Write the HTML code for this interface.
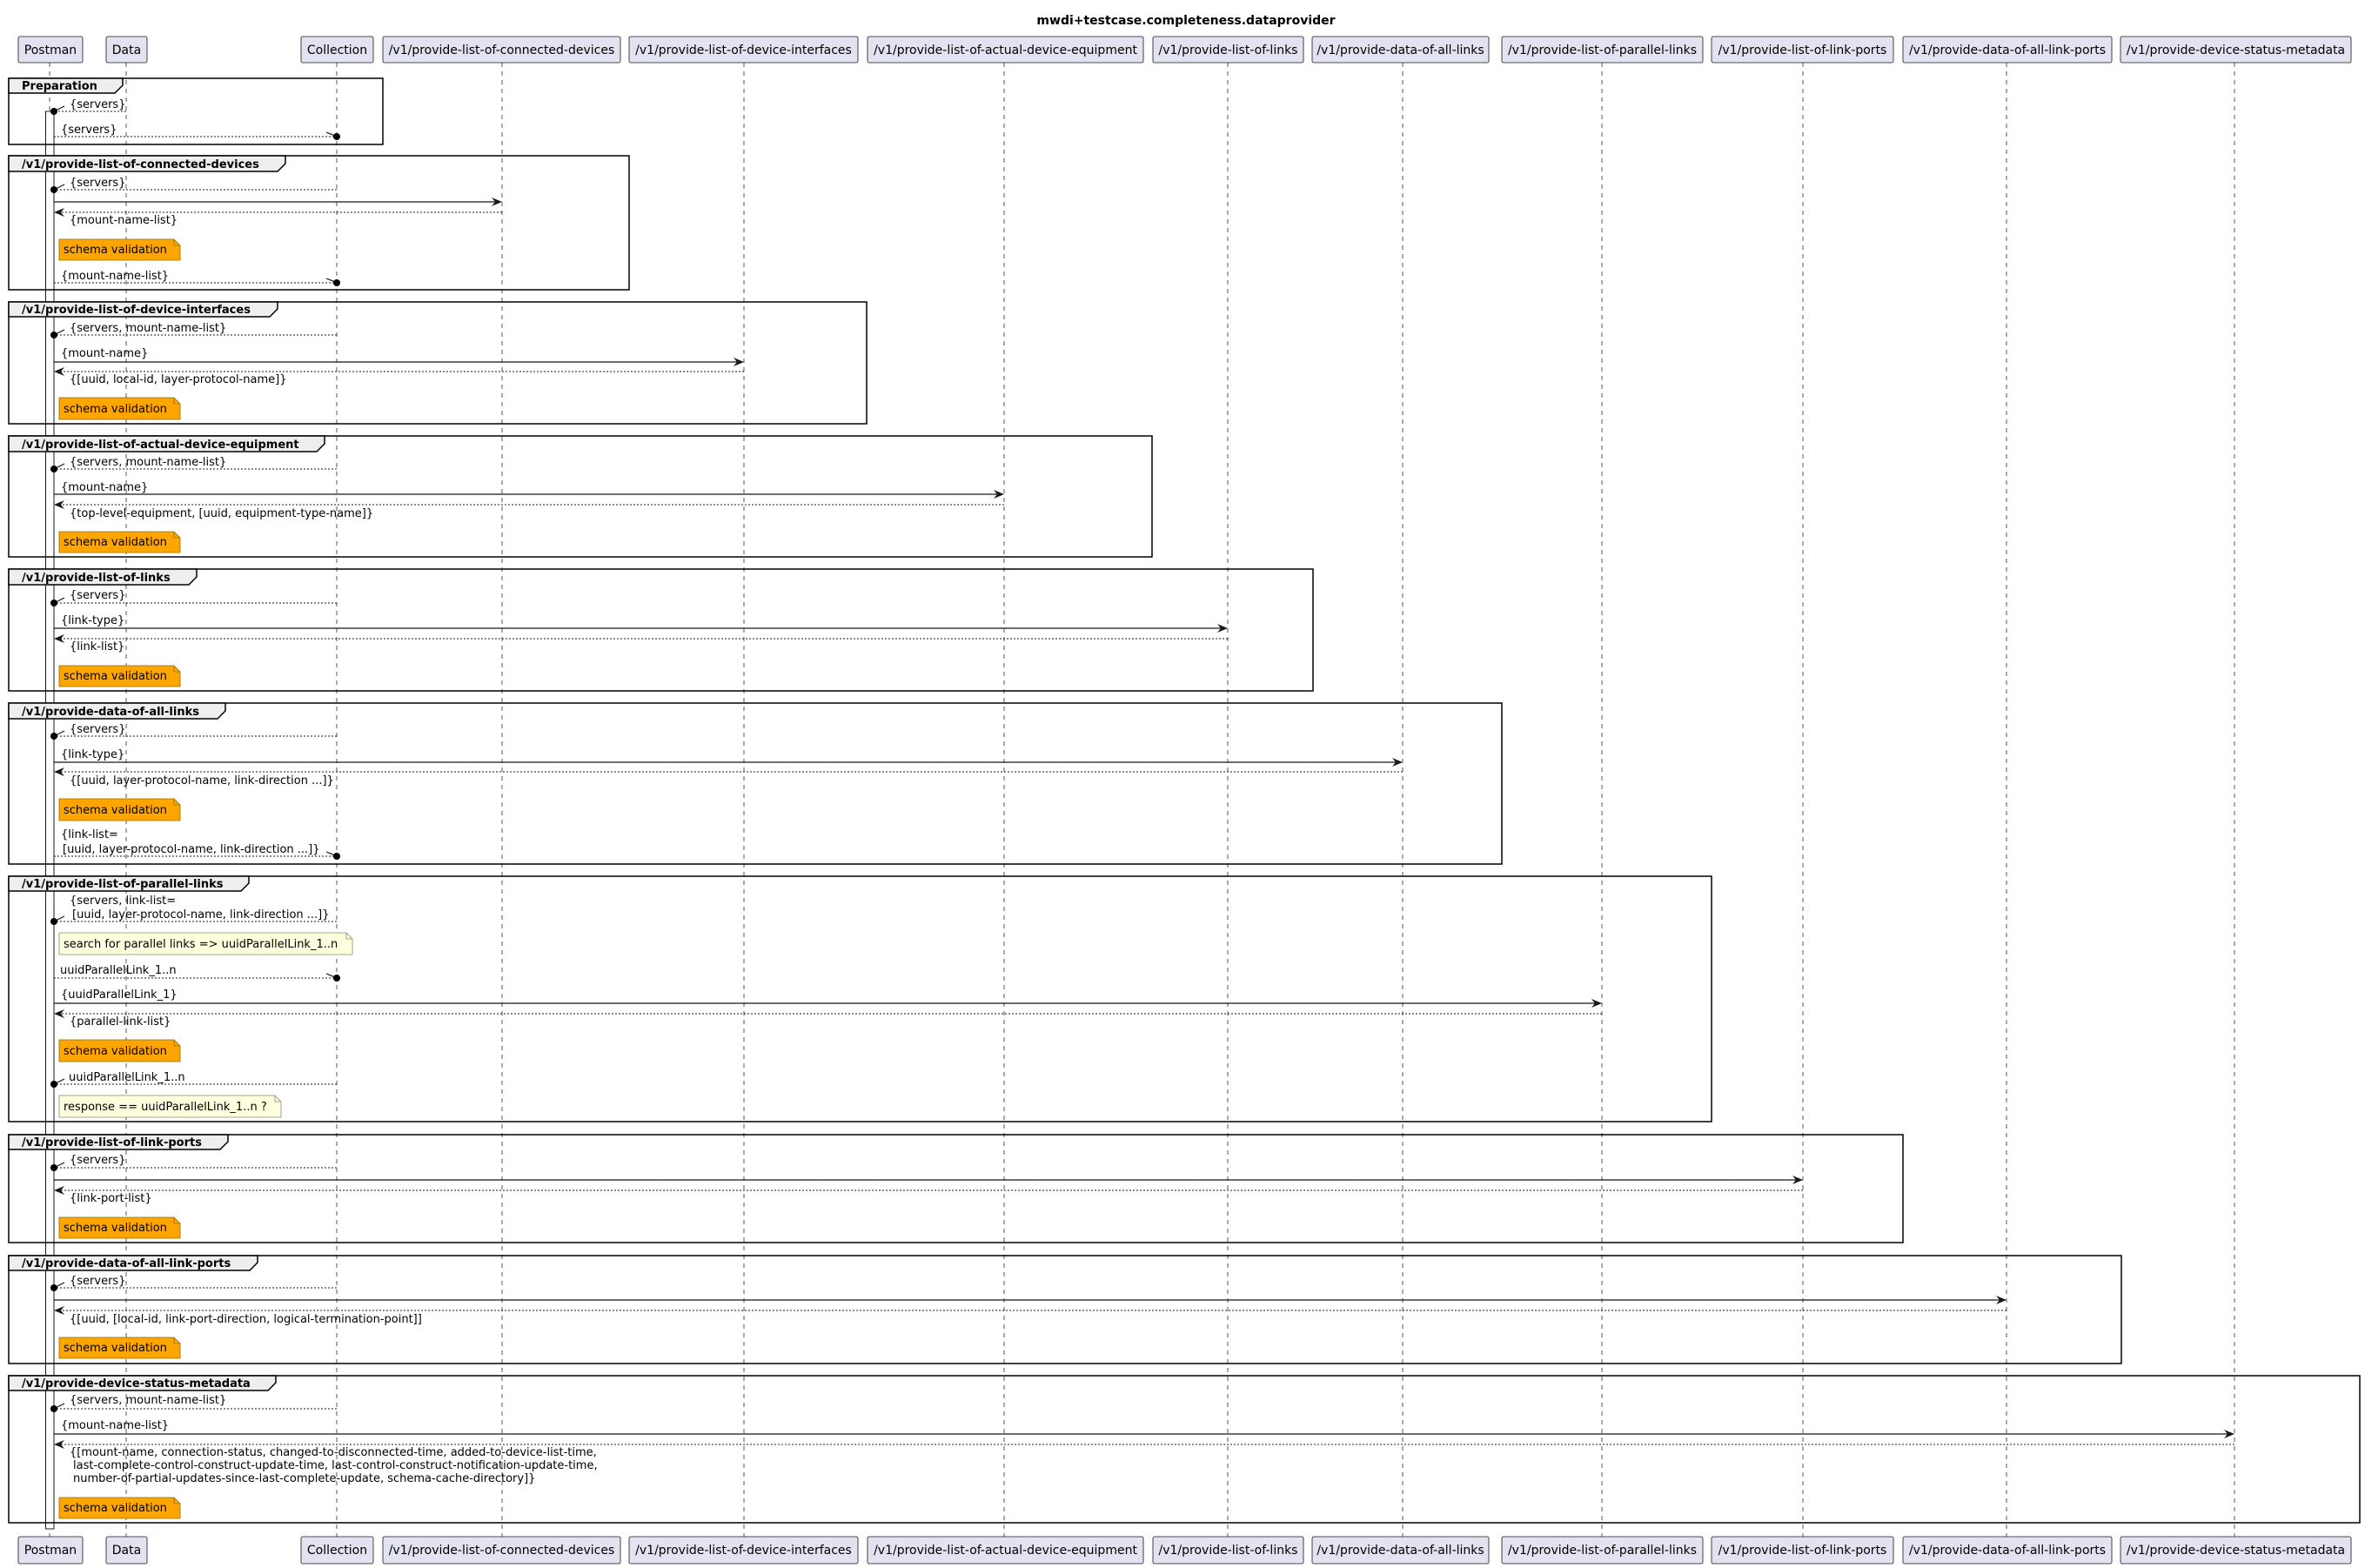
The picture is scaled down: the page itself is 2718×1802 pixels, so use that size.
<!DOCTYPE html>
<html><head><meta charset="utf-8"><style>
html,body{margin:0;padding:0;background:#fff}
svg{display:block}
text{font-family:"DejaVu Sans","Liberation Sans",sans-serif}
.m{font-size:13px;fill:#000}
.p{font-size:14px;fill:#000}
.g{font-size:13px;font-weight:bold;fill:#000}
.ll{stroke:#555;stroke-width:1;stroke-dasharray:5,5}
.box{fill:#E2E2F0;stroke:#181818;stroke-width:0.8}
.fr{fill:none;stroke:#000;stroke-width:1.5}
.tab{fill:#EEEEEE;stroke:#000;stroke-width:1.5}
.s{stroke:#181818;stroke-width:1.2;fill:none}
.d{stroke:#181818;stroke-width:1;stroke-dasharray:2,2;fill:none}
.on{fill:#FFA500;stroke:#8A6D00;stroke-width:0.8}
.yn{fill:#FEFFDD;stroke:#8A8A6D;stroke-width:0.8}
</style></head><body>
<svg width="2718" height="1802" viewBox="0 0 2718 1802" xmlns="http://www.w3.org/2000/svg">
<defs>
<path id="ar" d="M0,0 L-12,-5 L-8,0 L-12,5 Z" fill="#181818"/>
<path id="al" d="M0,0 L12,-5 L8,0 L12,5 Z" fill="#181818"/>
</defs>
<text x="1363" y="28" text-anchor="middle" style="font-size:14px;font-weight:bold">mwdi+testcase.completeness.dataprovider</text>

<g class="ll">
<line x1="57" y1="72" x2="57" y2="1766"/>
<line x1="145" y1="72" x2="145" y2="1766"/>
<line x1="387" y1="72" x2="387" y2="1766"/>
<line x1="577" y1="72" x2="577" y2="1766"/>
<line x1="855" y1="72" x2="855" y2="1766"/>
<line x1="1154" y1="72" x2="1154" y2="1766"/>
<line x1="1411" y1="72" x2="1411" y2="1766"/>
<line x1="1612" y1="72" x2="1612" y2="1766"/>
<line x1="1841" y1="72" x2="1841" y2="1766"/>
<line x1="2072" y1="72" x2="2072" y2="1766"/>
<line x1="2306" y1="72" x2="2306" y2="1766"/>
<line x1="2568" y1="72" x2="2568" y2="1766"/>
</g>

<g>
<rect class="box" x="21" y="42" width="74" height="30" rx="2"/><text class="p" x="58" y="62" text-anchor="middle">Postman</text>
<rect class="box" x="122" y="42" width="47" height="30" rx="2"/><text class="p" x="145.5" y="62" text-anchor="middle">Data</text>
<rect class="box" x="346" y="42" width="83" height="30" rx="2"/><text class="p" x="387.5" y="62" text-anchor="middle">Collection</text>
<rect class="box" x="440" y="42" width="273" height="30" rx="2"/><text class="p" x="576.5" y="62" text-anchor="middle">/v1/provide-list-of-connected-devices</text>
<rect class="box" x="723" y="42" width="263" height="30" rx="2"/><text class="p" x="854.5" y="62" text-anchor="middle">/v1/provide-list-of-device-interfaces</text>
<rect class="box" x="997" y="42" width="317" height="30" rx="2"/><text class="p" x="1155.5" y="62" text-anchor="middle">/v1/provide-list-of-actual-device-equipment</text>
<rect class="box" x="1325" y="42" width="173" height="30" rx="2"/><text class="p" x="1411.5" y="62" text-anchor="middle">/v1/provide-list-of-links</text>
<rect class="box" x="1508" y="42" width="203" height="30" rx="2"/><text class="p" x="1609.5" y="62" text-anchor="middle">/v1/provide-data-of-all-links</text>
<rect class="box" x="1726" y="42" width="231" height="30" rx="2"/><text class="p" x="1841.5" y="62" text-anchor="middle">/v1/provide-list-of-parallel-links</text>
<rect class="box" x="1967" y="42" width="209" height="30" rx="2"/><text class="p" x="2071.5" y="62" text-anchor="middle">/v1/provide-list-of-link-ports</text>
<rect class="box" x="2187" y="42" width="240" height="30" rx="2"/><text class="p" x="2307" y="62" text-anchor="middle">/v1/provide-data-of-all-link-ports</text>
<rect class="box" x="2437" y="42" width="265" height="30" rx="2"/><text class="p" x="2569.5" y="62" text-anchor="middle">/v1/provide-device-status-metadata</text>
</g>
<g transform="translate(0,1724)">
<rect class="box" x="21" y="42" width="74" height="31" rx="2"/><text class="p" x="58" y="62" text-anchor="middle">Postman</text>
<rect class="box" x="122" y="42" width="47" height="31" rx="2"/><text class="p" x="145.5" y="62" text-anchor="middle">Data</text>
<rect class="box" x="346" y="42" width="83" height="31" rx="2"/><text class="p" x="387.5" y="62" text-anchor="middle">Collection</text>
<rect class="box" x="440" y="42" width="273" height="31" rx="2"/><text class="p" x="576.5" y="62" text-anchor="middle">/v1/provide-list-of-connected-devices</text>
<rect class="box" x="723" y="42" width="263" height="31" rx="2"/><text class="p" x="854.5" y="62" text-anchor="middle">/v1/provide-list-of-device-interfaces</text>
<rect class="box" x="997" y="42" width="317" height="31" rx="2"/><text class="p" x="1155.5" y="62" text-anchor="middle">/v1/provide-list-of-actual-device-equipment</text>
<rect class="box" x="1325" y="42" width="173" height="31" rx="2"/><text class="p" x="1411.5" y="62" text-anchor="middle">/v1/provide-list-of-links</text>
<rect class="box" x="1508" y="42" width="203" height="31" rx="2"/><text class="p" x="1609.5" y="62" text-anchor="middle">/v1/provide-data-of-all-links</text>
<rect class="box" x="1726" y="42" width="231" height="31" rx="2"/><text class="p" x="1841.5" y="62" text-anchor="middle">/v1/provide-list-of-parallel-links</text>
<rect class="box" x="1967" y="42" width="209" height="31" rx="2"/><text class="p" x="2071.5" y="62" text-anchor="middle">/v1/provide-list-of-link-ports</text>
<rect class="box" x="2187" y="42" width="240" height="31" rx="2"/><text class="p" x="2307" y="62" text-anchor="middle">/v1/provide-data-of-all-link-ports</text>
<rect class="box" x="2437" y="42" width="265" height="31" rx="2"/><text class="p" x="2569.5" y="62" text-anchor="middle">/v1/provide-device-status-metadata</text>
</g>

<rect x="52.5" y="128" width="9.5" height="1629" fill="#fff" stroke="#181818" stroke-width="1"/>

<g>
<rect class="fr" x="10" y="90" width="430" height="76"/>
<path class="tab" d="M10,90 H141 V98 L132,107 H10 Z"/><text class="g" x="25" y="103">Preparation</text>
<rect class="fr" x="10" y="179" width="713" height="154"/>
<path class="tab" d="M10,179 H328 V188 L319,197 H10 Z"/><text class="g" x="25" y="193">/v1/provide-list-of-connected-devices</text>
<rect class="fr" x="10" y="347" width="986" height="140"/>
<path class="tab" d="M10,347 H319 V355 L310,364 H10 Z"/><text class="g" x="25" y="360">/v1/provide-list-of-device-interfaces</text>
<rect class="fr" x="10" y="501" width="1314" height="139"/>
<path class="tab" d="M10,501 H373 V510 L364,519 H10 Z"/><text class="g" x="25" y="515">/v1/provide-list-of-actual-device-equipment</text>
<rect class="fr" x="10" y="654" width="1499" height="140"/>
<path class="tab" d="M10,654 H226 V663 L217,672 H10 Z"/><text class="g" x="25" y="668">/v1/provide-list-of-links</text>
<rect class="fr" x="10" y="808" width="1716" height="185"/>
<path class="tab" d="M10,808 H259 V817 L250,826 H10 Z"/><text class="g" x="25" y="822">/v1/provide-data-of-all-links</text>
<rect class="fr" x="10" y="1007" width="1957" height="282"/>
<path class="tab" d="M10,1007 H286 V1015 L277,1024 H10 Z"/><text class="g" x="25" y="1020">/v1/provide-list-of-parallel-links</text>
<rect class="fr" x="10" y="1304" width="2177" height="124"/>
<path class="tab" d="M10,1304 H262 V1312 L253,1321 H10 Z"/><text class="g" x="25" y="1317">/v1/provide-list-of-link-ports</text>
<rect class="fr" x="10" y="1443" width="2428" height="124"/>
<path class="tab" d="M10,1443 H296 V1451 L287,1460 H10 Z"/><text class="g" x="25" y="1456">/v1/provide-data-of-all-link-ports</text>
<rect class="fr" x="10" y="1581" width="2702" height="169"/>
<path class="tab" d="M10,1581 H317 V1589 L308,1598 H10 Z"/><text class="g" x="25" y="1594">/v1/provide-device-status-metadata</text>
</g>

<line class="d" x1="145" y1="128" x2="62" y2="128"/><line class="s" x1="64" y1="127" x2="74" y2="122"/><circle cx="62" cy="128" r="4" fill="#000"/>
<text class="m" x="80" y="124">{servers}</text>
<text class="m" x="70" y="153">{servers}</text>
<line class="d" x1="62" y1="157" x2="387" y2="157"/><line class="s" x1="375" y1="152" x2="385" y2="156"/><circle cx="387" cy="157" r="4" fill="#000"/>

<line class="d" x1="387" y1="218" x2="62" y2="218"/><line class="s" x1="64" y1="217" x2="74" y2="212"/><circle cx="62" cy="218" r="4" fill="#000"/>
<text class="m" x="80" y="214">{servers}</text>
<line class="s" x1="62" y1="232" x2="575" y2="232"/><use href="#ar" x="577" y="232"/>
<line class="d" x1="577" y1="244" x2="64" y2="244"/><use href="#al" x="62" y="244"/>
<text class="m" x="80" y="257">{mount-name-list}</text>
<path class="on" d="M68,275 H200 L207,282 V299 H68 Z"/><path d="M200,275 V282 H207" fill="none" stroke="#8A6D00" stroke-width="0.8"/>
<text class="m" x="73" y="291">schema validation</text>
<text class="m" x="70" y="321">{mount-name-list}</text>
<line class="d" x1="62" y1="325" x2="387" y2="325"/><line class="s" x1="375" y1="320" x2="385" y2="324"/><circle cx="387" cy="325" r="4" fill="#000"/>

<line class="d" x1="387" y1="385" x2="62" y2="385"/><line class="s" x1="64" y1="384" x2="74" y2="379"/><circle cx="62" cy="385" r="4" fill="#000"/>
<text class="m" x="80" y="381">{servers, mount-name-list}</text>
<text class="m" x="70" y="410">{mount-name}</text>
<line class="s" x1="62" y1="416" x2="853" y2="416"/><use href="#ar" x="855" y="416"/>
<line class="d" x1="855" y1="427" x2="64" y2="427"/><use href="#al" x="62" y="427"/>
<text class="m" x="80" y="440">{[uuid, local-id, layer-protocol-name]}</text>
<path class="on" d="M68,457 H200 L207,464 V482 H68 Z"/><path d="M200,457 V464 H207" fill="none" stroke="#8A6D00" stroke-width="0.8"/>
<text class="m" x="73" y="474">schema validation</text>

<line class="d" x1="387" y1="539" x2="62" y2="539"/><line class="s" x1="64" y1="538" x2="74" y2="533"/><circle cx="62" cy="539" r="4" fill="#000"/>
<text class="m" x="80" y="535">{servers, mount-name-list}</text>
<text class="m" x="70" y="564">{mount-name}</text>
<line class="s" x1="62" y1="568" x2="1152" y2="568"/><use href="#ar" x="1154" y="568"/>
<line class="d" x1="1154" y1="580" x2="64" y2="580"/><use href="#al" x="62" y="580"/>
<text class="m" x="80" y="594">{top-level-equipment, [uuid, equipment-type-name]}</text>
<path class="on" d="M68,611 H200 L207,618 V635 H68 Z"/><path d="M200,611 V618 H207" fill="none" stroke="#8A6D00" stroke-width="0.8"/>
<text class="m" x="73" y="627">schema validation</text>

<line class="d" x1="387" y1="693" x2="62" y2="693"/><line class="s" x1="64" y1="692" x2="74" y2="687"/><circle cx="62" cy="693" r="4" fill="#000"/>
<text class="m" x="80" y="688">{servers}</text>
<text class="m" x="70" y="717">{link-type}</text>
<line class="s" x1="62" y1="722" x2="1409" y2="722"/><use href="#ar" x="1411" y="722"/>
<line class="d" x1="1411" y1="734" x2="64" y2="734"/><use href="#al" x="62" y="734"/>
<text class="m" x="80" y="747">{link-list}</text>
<path class="on" d="M68,765 H200 L207,772 V789 H68 Z"/><path d="M200,765 V772 H207" fill="none" stroke="#8A6D00" stroke-width="0.8"/>
<text class="m" x="73" y="781">schema validation</text>

<line class="d" x1="387" y1="846" x2="62" y2="846"/><line class="s" x1="64" y1="845" x2="74" y2="840"/><circle cx="62" cy="846" r="4" fill="#000"/>
<text class="m" x="80" y="842">{servers}</text>
<text class="m" x="70" y="871">{link-type}</text>
<line class="s" x1="62" y1="876" x2="1610" y2="876"/><use href="#ar" x="1612" y="876"/>
<line class="d" x1="1612" y1="887" x2="64" y2="887"/><use href="#al" x="62" y="887"/>
<text class="m" x="80" y="901">{[uuid, layer-protocol-name, link-direction ...]}</text>
<path class="on" d="M68,918 H200 L207,925 V943 H68 Z"/><path d="M200,918 V925 H207" fill="none" stroke="#8A6D00" stroke-width="0.8"/>
<text class="m" x="73" y="935">schema validation</text>
<text class="m" x="70" y="963">{link-list=</text>
<text class="m" x="72" y="980">[uuid, layer-protocol-name, link-direction ...]}</text>
<line class="d" x1="62" y1="984" x2="387" y2="984"/><line class="s" x1="375" y1="979" x2="385" y2="983"/><circle cx="387" cy="984" r="4" fill="#000"/>

<text class="m" x="80" y="1039">{servers, link-list=</text>
<text class="m" x="83" y="1055">[uuid, layer-protocol-name, link-direction ...]}</text>
<line class="d" x1="387" y1="1059" x2="62" y2="1059"/><line class="s" x1="64" y1="1058" x2="74" y2="1053"/><circle cx="62" cy="1059" r="4" fill="#000"/>
<path class="yn" d="M68,1072 H398 L405,1079 V1097 H68 Z"/><path d="M398,1072 V1079 H405" fill="none" stroke="#8A8A6D" stroke-width="0.8"/>
<text class="m" x="73" y="1089">search for parallel links =&gt; uuidParallelLink_1..n</text>
<text class="m" x="69" y="1119">uuidParallelLink_1..n</text>
<line class="d" x1="62" y1="1124" x2="387" y2="1124"/><line class="s" x1="375" y1="1119" x2="385" y2="1123"/><circle cx="387" cy="1124" r="4" fill="#000"/>
<text class="m" x="70" y="1147">{uuidParallelLink_1}</text>
<line class="s" x1="62" y1="1153" x2="1839" y2="1153"/><use href="#ar" x="1841" y="1153"/>
<line class="d" x1="1841" y1="1165" x2="64" y2="1165"/><use href="#al" x="62" y="1165"/>
<text class="m" x="80" y="1178">{parallel-link-list}</text>
<path class="on" d="M68,1195 H200 L207,1202 V1220 H68 Z"/><path d="M200,1195 V1202 H207" fill="none" stroke="#8A6D00" stroke-width="0.8"/>
<text class="m" x="73" y="1212">schema validation</text>
<line class="d" x1="387" y1="1246" x2="62" y2="1246"/><line class="s" x1="64" y1="1245" x2="74" y2="1240"/><circle cx="62" cy="1246" r="4" fill="#000"/>
<text class="m" x="79" y="1242">uuidParallelLink_1..n</text>
<path class="yn" d="M68,1259 H316 L323,1266 V1284 H68 Z"/><path d="M316,1259 V1266 H323" fill="none" stroke="#8A8A6D" stroke-width="0.8"/>
<text class="m" x="73" y="1276">response == uuidParallelLink_1..n ?</text>

<line class="d" x1="387" y1="1342" x2="62" y2="1342"/><line class="s" x1="64" y1="1341" x2="74" y2="1336"/><circle cx="62" cy="1342" r="4" fill="#000"/>
<text class="m" x="80" y="1337">{servers}</text>
<line class="s" x1="62" y1="1356" x2="2070" y2="1356"/><use href="#ar" x="2072" y="1356"/>
<line class="d" x1="2072" y1="1368" x2="64" y2="1368"/><use href="#al" x="62" y="1368"/>
<text class="m" x="80" y="1381">{link-port-list}</text>
<path class="on" d="M68,1399 H200 L207,1406 V1423 H68 Z"/><path d="M200,1399 V1406 H207" fill="none" stroke="#8A6D00" stroke-width="0.8"/>
<text class="m" x="73" y="1415">schema validation</text>

<line class="d" x1="387" y1="1480" x2="62" y2="1480"/><line class="s" x1="64" y1="1479" x2="74" y2="1474"/><circle cx="62" cy="1480" r="4" fill="#000"/>
<text class="m" x="80" y="1476">{servers}</text>
<line class="s" x1="62" y1="1494" x2="2304" y2="1494"/><use href="#ar" x="2306" y="1494"/>
<line class="d" x1="2306" y1="1506" x2="64" y2="1506"/><use href="#al" x="62" y="1506"/>
<text class="m" x="80" y="1520">{[uuid, [local-id, link-port-direction, logical-termination-point]]</text>
<path class="on" d="M68,1537 H200 L207,1544 V1561 H68 Z"/><path d="M200,1537 V1544 H207" fill="none" stroke="#8A6D00" stroke-width="0.8"/>
<text class="m" x="73" y="1553">schema validation</text>

<line class="d" x1="387" y1="1619" x2="62" y2="1619"/><line class="s" x1="64" y1="1618" x2="74" y2="1613"/><circle cx="62" cy="1619" r="4" fill="#000"/>
<text class="m" x="80" y="1613">{servers, mount-name-list}</text>
<text class="m" x="70" y="1642">{mount-name-list}</text>
<line class="s" x1="62" y1="1648" x2="2566" y2="1648"/><use href="#ar" x="2568" y="1648"/>
<line class="d" x1="2568" y1="1660" x2="64" y2="1660"/><use href="#al" x="62" y="1660"/>
<text class="m" x="80" y="1673">{[mount-name, connection-status, changed-to-disconnected-time, added-to-device-list-time,</text>
<text class="m" x="84" y="1688">last-complete-control-construct-update-time, last-control-construct-notification-update-time,</text>
<text class="m" x="84" y="1703">number-of-partial-updates-since-last-complete-update, schema-cache-directory]}</text>
<path class="on" d="M68,1721 H200 L207,1728 V1745 H68 Z"/><path d="M200,1721 V1728 H207" fill="none" stroke="#8A6D00" stroke-width="0.8"/>
<text class="m" x="73" y="1737">schema validation</text>
</svg>
</body></html>
